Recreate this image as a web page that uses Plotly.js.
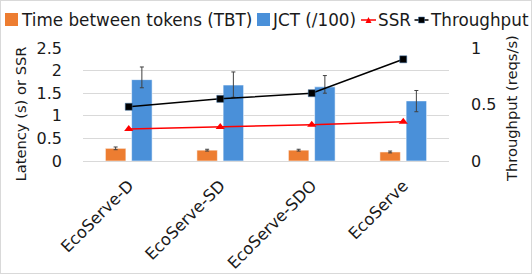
<!DOCTYPE html>
<html>
<head>
<meta charset="utf-8">
<script src="https://cdn.plot.ly/plotly-3.0.1.min.js"></script>
<style>
html,body{margin:0;padding:0;background:#fff;}
#wrap{position:relative;width:532px;height:274px;}
#chart{width:532px;height:274px;}
#frame{position:absolute;left:0;top:0;width:530px;height:272px;border:1px solid #d9d9d9;pointer-events:none;}
</style>
</head>
<body>
<div id="wrap"><div id="chart"></div><div id="frame"></div></div>
<script>
// ---- data ----
const categories = ["EcoServe-D", "EcoServe-SD", "EcoServe-SDO", "EcoServe"];
const tbt = [0.28, 0.24, 0.24, 0.20];
const tbtErr = [0.03, 0.02, 0.02, 0.02];
const jct = [1.80, 1.68, 1.64, 1.33];
const jctErrPlus = [0.28, 0.29, 0.25, 0.23];
const jctErrMinus = [0.18, 0.27, 0.14, 0.24];
const ssr = [0.71, 0.75, 0.80, 0.87];
const throughput = [0.48, 0.55, 0.60, 0.90];
const legendNames = ["Time between tokens (TBT)", "JCT (/100)", "SSR", "Throughput"];
const leftTitle = "Latency (s) or SSR";
const rightTitle = "Throughput (reqs/s)";

const ORANGE = "#ED7D31", BLUE = "#4A90D9", RED = "#FF0000", BLACK = "#000000";
const FONT = "DejaVu Sans, Liberation Sans, Arial, sans-serif";
const TXT = "#1a1a1a";

const traces = [
  {type:"bar", name:legendNames[0], x:categories, y:tbt, yaxis:"y",
   marker:{color:ORANGE, line:{color:"rgba(255,255,255,0.55)", width:1}},
   error_y:{type:"data", array:tbtErr, visible:true, color:"#404040", thickness:1, width:2}},
  {type:"bar", name:legendNames[1], x:categories, y:jct, yaxis:"y",
   marker:{color:BLUE, line:{color:"rgba(255,255,255,0.55)", width:1}},
   error_y:{type:"data", symmetric:false, array:jctErrPlus, arrayminus:jctErrMinus, visible:true, color:"#404040", thickness:1, width:2}},
  {type:"scatter", mode:"lines+markers", name:legendNames[2], x:categories, y:ssr, yaxis:"y",
   line:{color:RED, width:1.5}, marker:{symbol:"triangle-up", size:8, color:RED}},
  {type:"scatter", mode:"lines+markers", name:legendNames[3], x:categories, y:throughput, yaxis:"y2",
   line:{color:BLACK, width:1.5}, marker:{symbol:"square", size:7, color:BLACK, line:{color:"#3a6ea5", width:0.5}}}
];

// plot area in pixels: x 83..449, y 48..161
const L = 83, R = 449, T = 48, B = 161;
const px = v => (v - L) / (R - L);
const py = v => (B - v) / (B - T);

const legendY = 20;
const shapes = [
  {type:"rect", xref:"paper", yref:"paper", x0:px(5), x1:px(18), y0:py(26), y1:py(13), fillcolor:ORANGE, line:{width:0}},
  {type:"rect", xref:"paper", yref:"paper", x0:px(257), x1:px(270), y0:py(26), y1:py(13), fillcolor:BLUE, line:{width:0}},
  {type:"line", xref:"paper", yref:"paper", x0:px(361), x1:px(376), y0:py(legendY), y1:py(legendY), line:{color:RED, width:1.5}},
  {type:"path", xref:"paper", yref:"paper",
   path:`M ${px(365.5)} ${py(23)} L ${px(371.5)} ${py(23)} L ${px(368.5)} ${py(17)} Z`, fillcolor:RED, line:{width:0}},
  {type:"line", xref:"paper", yref:"paper", x0:px(414.5), x1:px(428.5), y0:py(legendY), y1:py(legendY), line:{color:BLACK, width:1.5}},
  {type:"rect", xref:"paper", yref:"paper", x0:px(418.5), x1:px(424.5), y0:py(23), y1:py(17), fillcolor:BLACK, line:{color:"#3a6ea5", width:0.5}}
];
const legX = [20, 271, 376.5, 429];
const annotations = legendNames.map((t, i) => ({
  xref:"paper", yref:"paper", x:px(legX[i]), y:py(legendY), xanchor:"left", yanchor:"middle",
  text:t, showarrow:false, borderpad:0, font:{family:FONT, size:16.8, color:TXT}
}));
annotations.push({xref:"paper", yref:"paper", x:px(20), y:py(114.5), xanchor:"center", yanchor:"middle",
  textangle:-90, text:leftTitle, showarrow:false, borderpad:0, font:{family:FONT, size:14.7, color:TXT}});
annotations.push({xref:"paper", yref:"paper", x:px(511.5), y:py(108.5), xanchor:"center", yanchor:"middle",
  textangle:-90, text:rightTitle, showarrow:false, borderpad:0, font:{family:FONT, size:14.7, color:TXT}});

const layout = {
  width:532, height:274,
  margin:{l:L, r:532-R, t:T, b:274-B, pad:0},
  paper_bgcolor:"#fff", plot_bgcolor:"#fff",
  showlegend:false,
  barmode:"group", bargap:0.427, bargroupgap:0.218,
  font:{family:FONT, color:TXT},
  xaxis:{type:"category", range:[-0.5, 3.5], tickangle:-45, showgrid:false, showline:false, ticks:"",
         ticklabelstandoff:11, tickfont:{family:FONT, size:16.3, color:TXT}, fixedrange:true},
  yaxis:{range:[0, 2.5], tickvals:[0, 0.5, 1, 1.5, 2, 2.5], ticktext:["0","0.5","1","1.5","2","2.5"],
         showgrid:true, gridcolor:"#d9d9d9", gridwidth:1, zeroline:true, zerolinecolor:"#d9d9d9", zerolinewidth:1,
         ticks:"", ticklabelstandoff:20, tickfont:{family:FONT, size:16, color:TXT}},
  yaxis2:{range:[0, 1], tickvals:[0, 0.5, 1], ticktext:["0","0.5","1"], overlaying:"y", side:"right",
          showgrid:false, zeroline:false, ticks:"", ticklabelstandoff:21, tickfont:{family:FONT, size:16, color:TXT}},
  shapes:shapes,
  annotations:annotations
};

Plotly.newPlot("chart", traces, layout, {displayModeBar:false, staticPlot:true});
</script>
</body>
</html>
